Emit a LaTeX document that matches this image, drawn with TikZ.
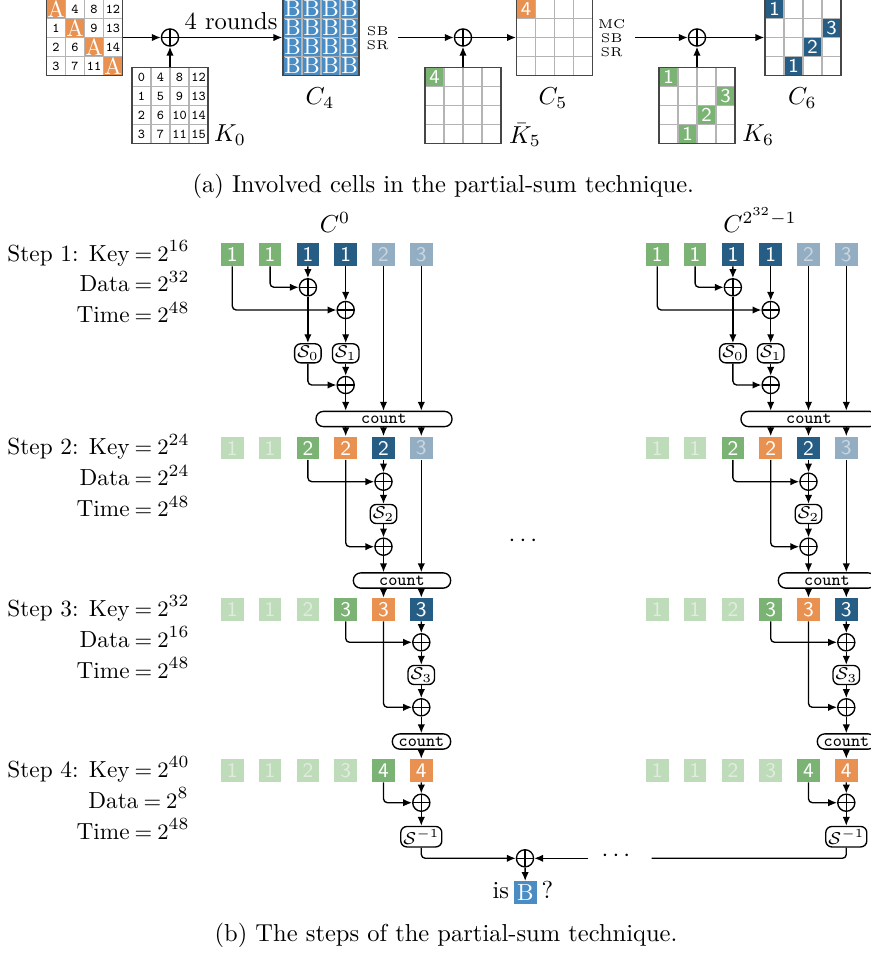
\documentclass[tikz,border=0pt]{standalone}
\usepackage{amsmath}
\usetikzlibrary{arrows.meta,calc}
\definecolor{cOr}{RGB}{232,145,80}
\definecolor{cGr}{RGB}{122,179,115}
\definecolor{cDb}{RGB}{38,93,133}
\definecolor{cBl}{RGB}{74,140,196}
\definecolor{cGb}{RGB}{147,174,194}
\definecolor{cFg}{RGB}{190,219,186}
\definecolor{cFt}{RGB}{224,237,221}
\definecolor{cGt}{RGB}{200,214,226}
\definecolor{gridc}{RGB}{180,180,180}
\definecolor{borderc}{RGB}{70,70,70}
\tikzset{
 x=0.408pt, y=-0.408pt,
 conn/.style={line width=0.55pt, -{Latex[length=3.6pt,width=3pt]}, rounded corners=1.6pt},
 plainline/.style={line width=0.55pt, rounded corners=1.6pt},
 xor/.style={circle, draw, line width=0.55pt, minimum size=7pt, inner sep=0pt,
   path picture={\draw[line width=0.55pt] (path picture bounding box.north) -- (path picture bounding box.south)
     (path picture bounding box.west) -- (path picture bounding box.east);}},
 mcell/.style={minimum size=7.75pt, inner sep=0pt, outer sep=0pt},
 mtxbox/.style={draw=borderc, line width=0.6pt, minimum size=31pt, inner sep=0pt},
 bcell/.style={minimum size=9.26pt, inner sep=0pt, font=\fontsize{8.5}{8.5}\selectfont\sffamily},
 sbox/.style={draw, rounded corners=2.5pt, line width=0.55pt, inner sep=1pt, font=\scriptsize, minimum height=7.3pt},
 cnt/.style={draw, rounded corners=3pt, line width=0.55pt, inner sep=0pt, minimum height=6.2pt, font=\scriptsize\ttfamily},
 steplab/.style={anchor=base east, inner sep=0pt, font=\fontsize{9.5}{11}\selectfont},
}
\newcommand\tn[1]{{\fontsize{5.5}{6}\selectfont\ttfamily #1}}
\newcommand\sn[1]{{\color{white}\fontsize{8}{8}\selectfont\sffamily #1}}
\newcommand\Aw{{\color{white}\fontsize{9.5}{9.5}\selectfont A}}
\newcommand\Bw{{\color{white}\fontsize{9.5}{9.5}\selectfont B}}
\newcommand\qeq{\mathrel{\mskip-1mu=\mskip-1mu}}
\newcommand\mtx[4]{%
 \foreach \ccol/\crow/\cfill/\ctext in {#4} {
   \node[mcell, fill=\cfill] (#1-\ccol-\crow) at ({#2+19*\ccol-9.5},{#3+19*\crow-9.5}) {\ctext};
 }
 \foreach \k in {1,2,3}{
   \draw[gridc, line width=0.45pt] ({#2+19*\k},#3) -- ({#2+19*\k},{#3+76});
   \draw[gridc, line width=0.45pt] (#2,{#3+19*\k}) -- ({#2+76},{#3+19*\k});
 }
 \node[mtxbox] (#1) at ({#2+38},{#3+38}) {};
}
\newcommand\stepcol[2]{%
 \node[anchor=base] (#1lab) at (335,232) {#2};
 % step 1
 \foreach \i/\cf/\ct/\cn in {1/cGr/white/1,2/cGr/white/1,3/cDb/white/1,4/cDb/white/1,5/cGb/cGt/2,6/cGb/cGt/3}
   {\node[bcell, fill=\cf, text=\ct] (#1a\i) at ({194.5+37.8*\i},254.5) {\cn};}
 \node[xor] (#1xa) at (307.9,287.3) {};
 \node[xor] (#1xb) at (345.7,310) {};
 \node[sbox] (#1s0) at (307.9,353.3) {$\mathcal{S}_0$};
 \node[sbox] (#1s1) at (345.7,353.3) {$\mathcal{S}_1$};
 \node[xor] (#1xc) at (345.7,385) {};
 \node[cnt, minimum width=55.5pt] (#1k1) at (384,419) {count};
 \draw[conn] (#1a3) -- (#1xa);
 \draw[conn] (#1a2) |- (#1xa);
 \draw[conn] (#1a4) -- (#1xb);
 \draw[conn] (#1a1) |- (#1xb);
 \draw[conn] (#1xa) -- (#1s0);
 \draw[conn] (#1xb) -- (#1s1);
 \draw[conn] (#1s1) -- (#1xc);
 \draw[conn] (#1s0) |- (#1xc);
 \draw[conn] (#1xc) -- (#1xc |- #1k1.north);
 \draw[conn] (#1a5) -- (#1a5 |- #1k1.north);
 \draw[conn] (#1a6) -- (#1a6 |- #1k1.north);
 % step 2
 \foreach \i/\cf/\ct/\cn in {1/cFg/cFt/1,2/cFg/cFt/1,3/cGr/white/2,4/cOr/white/2,5/cDb/white/2,6/cGb/cGt/3}
   {\node[bcell, fill=\cf, text=\ct] (#1b\i) at ({194.5+37.8*\i},448) {\cn};}
 \draw[conn] (#1k1.south -| #1b4) -- (#1b4);
 \draw[conn] (#1k1.south -| #1b5) -- (#1b5);
 \draw[conn] (#1k1.south -| #1b6) -- (#1b6);
 \node[xor] (#1xd) at (383.5,481.7) {};
 \node[sbox] (#1s2) at (383.5,514) {$\mathcal{S}_2$};
 \node[xor] (#1xe) at (383.5,546.7) {};
 \node[cnt, minimum width=39.7pt] (#1k2) at (402,580.5) {count};
 \draw[conn] (#1b5) -- (#1xd);
 \draw[conn] (#1b3) |- (#1xd);
 \draw[conn] (#1xd) -- (#1s2);
 \draw[conn] (#1s2) -- (#1xe);
 \draw[conn] (#1b4) |- (#1xe);
 \draw[conn] (#1xe) -- (#1xe |- #1k2.north);
 \draw[conn] (#1b6) -- (#1b6 |- #1k2.north);
 % step 3
 \foreach \i/\cf/\ct/\cn in {1/cFg/cFt/1,2/cFg/cFt/1,3/cFg/cFt/2,4/cGr/white/3,5/cOr/white/3,6/cDb/white/3}
   {\node[bcell, fill=\cf, text=\ct] (#1c\i) at ({194.5+37.8*\i},609.5) {\cn};}
 \draw[conn] (#1k2.south -| #1c5) -- (#1c5);
 \draw[conn] (#1k2.south -| #1c6) -- (#1c6);
 \node[xor] (#1xf) at (421.3,642.3) {};
 \node[sbox] (#1s3) at (421.3,675) {$\mathcal{S}_3$};
 \node[xor] (#1xg) at (421.3,707.3) {};
 \node[cnt, minimum width=23.8pt] (#1k3) at (421.5,741.5) {count};
 \draw[conn] (#1c6) -- (#1xf);
 \draw[conn] (#1c4) |- (#1xf);
 \draw[conn] (#1xf) -- (#1s3);
 \draw[conn] (#1s3) -- (#1xg);
 \draw[conn] (#1c5) |- (#1xg);
 \draw[conn] (#1xg) -- (#1xg |- #1k3.north);
 % step 4
 \foreach \i/\cf/\ct/\cn in {1/cFg/cFt/1,2/cFg/cFt/1,3/cFg/cFt/2,4/cFg/cFt/3,5/cGr/white/4,6/cOr/white/4}
   {\node[bcell, fill=\cf, text=\ct] (#1d\i) at ({194.5+37.8*\i},770.5) {\cn};}
 \draw[conn] (#1k3.south -| #1d6) -- (#1d6);
 \node[xor] (#1xh) at (421.3,802.7) {};
 \node[sbox] (#1s4) at (421.3,836.7) {$\mathcal{S}^{-1}$};
 \draw[conn] (#1d6) -- (#1xh);
 \draw[conn] (#1d5) |- (#1xh);
 \draw[conn] (#1xh) -- (#1s4);
}
\begin{document}
\begin{tikzpicture}
\useasboundingbox (0,0) rectangle (871,953);
\clip (0,0) rectangle (871,953);
% ---------- part (a)
\mtx{P}{46.5}{-0.5}{1/1/cOr/\Aw, 2/1/white/\tn{4}, 3/1/white/\tn{8}, 4/1/white/\tn{12},
 1/2/white/\tn{1}, 2/2/cOr/\Aw, 3/2/white/\tn{9}, 4/2/white/\tn{13},
 1/3/white/\tn{2}, 2/3/white/\tn{6}, 3/3/cOr/\Aw, 4/3/white/\tn{14},
 1/4/white/\tn{3}, 2/4/white/\tn{7}, 3/4/white/\tn{11}, 4/4/cOr/\Aw}
\mtx{K0}{132}{67.5}{1/1/white/\tn{0}, 2/1/white/\tn{4}, 3/1/white/\tn{8}, 4/1/white/\tn{12},
 1/2/white/\tn{1}, 2/2/white/\tn{5}, 3/2/white/\tn{9}, 4/2/white/\tn{13},
 1/3/white/\tn{2}, 2/3/white/\tn{6}, 3/3/white/\tn{10}, 4/3/white/\tn{14},
 1/4/white/\tn{3}, 2/4/white/\tn{7}, 3/4/white/\tn{11}, 4/4/white/\tn{15}}
\mtx{C4}{283}{-0.5}{1/1/cBl/\Bw, 2/1/cBl/\Bw, 3/1/cBl/\Bw, 4/1/cBl/\Bw,
 1/2/cBl/\Bw, 2/2/cBl/\Bw, 3/2/cBl/\Bw, 4/2/cBl/\Bw,
 1/3/cBl/\Bw, 2/3/cBl/\Bw, 3/3/cBl/\Bw, 4/3/cBl/\Bw,
 1/4/cBl/\Bw, 2/4/cBl/\Bw, 3/4/cBl/\Bw, 4/4/cBl/\Bw}
\mtx{K5}{425}{67.5}{1/1/cGr/\sn{4}}
\mtx{C5}{516.7}{-0.5}{1/1/cOr/\sn{4}}
\mtx{K6}{659}{67.5}{1/1/cGr/\sn{1}, 4/2/cGr/\sn{3}, 3/3/cGr/\sn{2}, 2/4/cGr/\sn{1}}
\mtx{C6}{765}{-0.5}{1/1/cDb/\sn{1}, 4/2/cDb/\sn{3}, 3/3/cDb/\sn{2}, 2/4/cDb/\sn{1}}
\node[xor] (xa1) at (170,37.5) {};
\node[xor] (xa2) at (463,37.5) {};
\node[xor] (xa3) at (697,37.5) {};
\node (l4r) at (231,21) {4 rounds};
\node[font=\fontsize{5.2}{5.6}\selectfont, align=center, inner sep=0pt] (ops1) at (377.7,38.3) {SB\\SR};
\node[font=\fontsize{5.2}{5.6}\selectfont, align=center, inner sep=0pt] (ops2) at (611.7,38) {MC\\SB\\SR};
\coordinate (o1) at (398,37.5);
\coordinate (o2) at (635,37.5);
\draw[conn] (P) -- (xa1);
\draw[conn] (K0) -- (xa1);
\draw[conn] (xa1) -- (C4);
\draw[conn] (o1) -- (xa2);
\draw[conn] (K5) -- (xa2);
\draw[conn] (xa2) -- (C5);
\draw[conn] (o2) -- (xa3);
\draw[conn] (K6) -- (xa3);
\draw[conn] (xa3) -- (C6);
\node (lC4) at (320,98) {$C_4$};
\node (lK0) at (230,135) {$K_0$};
\node (lK5) at (525,135) {$\bar{K}_5$};
\node (lC5) at (553,98) {$C_5$};
\node (lK6) at (758.3,135) {$K_6$};
\node (lC6) at (802.3,98) {$C_6$};
\node (capa) at (443.3,186.5) {(a) Involved cells in the partial-sum technique.};
% ---------- part (b)
\node[steplab] (s1k) at (190,261) {Step 1: $\text{Key}\qeq 2^{16}$};
\node[steplab] (s1d) at (190,291.7) {$\text{Data}\qeq 2^{32}$};
\node[steplab] (s1t) at (190,322.7) {$\text{Time}\qeq 2^{48}$};
\node[steplab] (s2k) at (190,454.5) {Step 2: $\text{Key}\qeq 2^{24}$};
\node[steplab] (s2d) at (190,485.5) {$\text{Data}\qeq 2^{24}$};
\node[steplab] (s2t) at (190,516.5) {$\text{Time}\qeq 2^{48}$};
\node[steplab] (s3k) at (190,616) {Step 3: $\text{Key}\qeq 2^{32}$};
\node[steplab] (s3d) at (190,647) {$\text{Data}\qeq 2^{16}$};
\node[steplab] (s3t) at (190,678) {$\text{Time}\qeq 2^{48}$};
\node[steplab] (s4k) at (190,777) {Step 4: $\text{Key}\qeq 2^{40}$};
\node[steplab] (s4d) at (189,808) {$\text{Data}\qeq 2^{8}$};
\node[steplab] (s4t) at (190,839) {$\text{Time}\qeq 2^{48}$};
\stepcol{L}{$C^0$}
\begin{scope}[xshift=173.4pt]
\stepcol{R}{$C^{2^{32}-1}$}
\end{scope}
\node (dots1) at (525,541) {$\cdots$};
\node[xor] (fin) at (525,858.3) {};
\coordinate (rend) at (651.7,858.3);
\coordinate (rst) at (588.3,858.3);
\node (dots2) at (618,856) {$\cdots$};
\draw[conn] (Ls4) |- (fin);
\draw[plainline] (Rs4) |- (rend);
\draw[conn] (rst) -- (fin);
\node[bcell, fill=cBl, text=white, font=\fontsize{9.5}{9.5}\selectfont\rmfamily] (Bq) at (525.3,892.8) {B};
\node[anchor=base] (isl) at (500.8,898) {is};
\node[anchor=base] (qm) at (547.3,898) {?};
\draw[conn] (fin) -- (Bq);
\node (capb) at (446,935) {(b) The steps of the partial-sum technique.};
\end{tikzpicture}
\end{document}
